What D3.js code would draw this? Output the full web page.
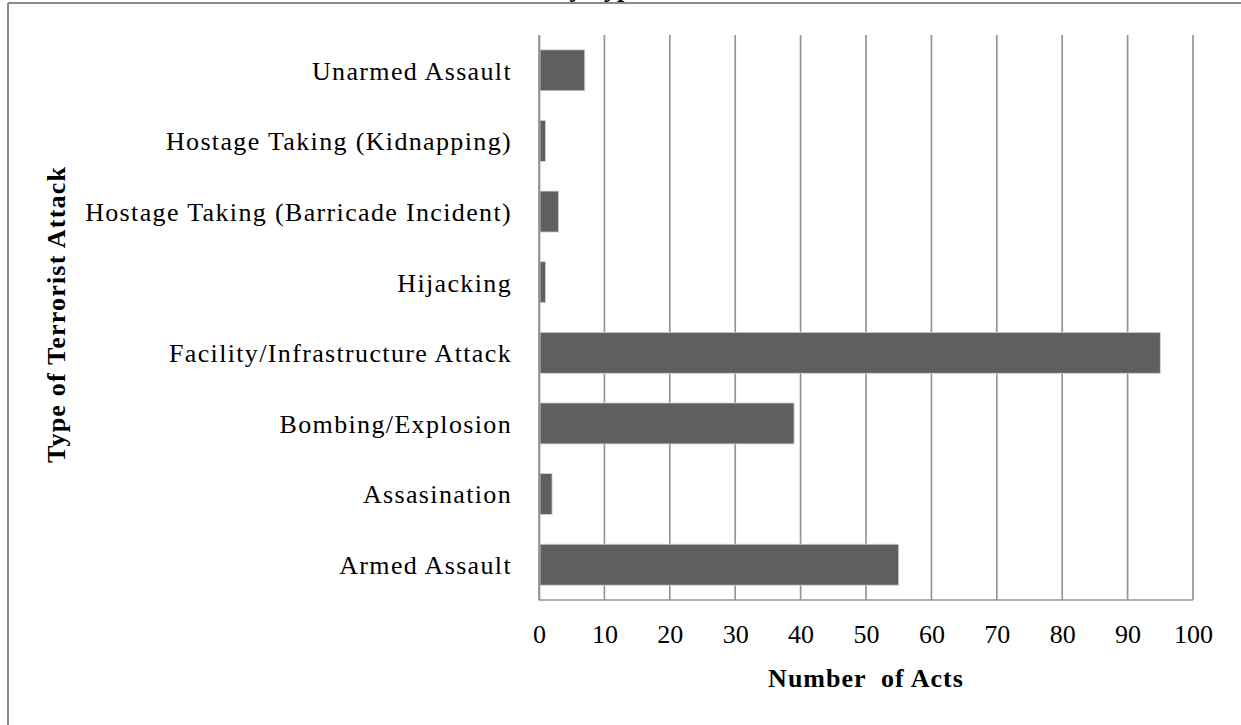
<!DOCTYPE html>
<html>
<head>
<meta charset="utf-8">
<script src="https://cdn.jsdelivr.net/npm/d3@7"></script>
<style>
  body { margin: 0; background: #fff; }
  text { font-family: "Liberation Serif", "Times New Roman", serif; fill: #000; }
</style>
</head>
<body>
<div id="vis"></div>
<script>
// chart values (bottom to top like the original)
var categories = ["Armed Assault", "Assasination", "Bombing/Explosion", "Facility/Infrastructure Attack",
                  "Hijacking", "Hostage Taking (Barricade Incident)", "Hostage Taking (Kidnapping)", "Unarmed Assault"];
var acts = [55, 2, 39, 95, 1, 3, 1, 7];
var xTicks = [0, 10, 20, 30, 40, 50, 60, 70, 80, 90, 100];

function init()
{
  var width = 1241, height = 725;
  var left = 539, right = 1193, top = 35, bottom = 600;

  var svg = d3.select("#vis")
    .append("svg")
    .attr("width", width)
    .attr("height", height);

  // outer frame of the chart (only top and left edges show)
  svg.append("line")
    .attr("x1", 8).attr("x2", width).attr("y1", 3).attr("y2", 3)
    .style("stroke", "#8a8a8a").style("stroke-width", 2);
  svg.append("line")
    .attr("x1", 8).attr("x2", 8).attr("y1", 3).attr("y2", height)
    .style("stroke", "#8a8a8a").style("stroke-width", 2);

  // title, cut off by the top of the picture as in the original
  svg.append("text")
    .attr("x", 643)
    .attr("y", -3)
    .style("text-anchor", "end")
    .style("font-weight", "bold")
    .style("font-size", "26px")
    .text("Terrorist Acts by Type");

  var xScale = d3.scaleLinear()
    .domain([0, 100])
    .range([left, right]);

  // top category first, so reverse the order for the band scale
  var yScale = d3.scaleBand()
    .domain(categories.slice().reverse())
    .range([top, bottom])
    .paddingInner(0.42)
    .paddingOuter(0.21);

  // vertical gridlines
  svg.selectAll(".grid")
    .data(xTicks)
    .enter()
    .append("line")
      .attr("class", "grid")
      .attr("x1", function(d) {return xScale(d);})
      .attr("x2", function(d) {return xScale(d);})
      .attr("y1", top)
      .attr("y2", bottom)
      .style("stroke", "#959595")
      .style("stroke-width", 1.7);

  // bottom axis line
  svg.append("line")
    .attr("x1", left).attr("x2", right)
    .attr("y1", bottom).attr("y2", bottom)
    .style("stroke", "#959595")
    .style("stroke-width", 1.7);

  // bars
  svg.selectAll(".bar")
    .data(acts)
    .enter()
    .append("rect")
      .attr("class", "bar")
      .attr("x", xScale(0) + 1)
      .attr("y", function(d, i) {return yScale(categories[i]);})
      .attr("width", function(d) {return xScale(d) - xScale(0) - 1;})
      .attr("height", yScale.bandwidth())
      .style("fill", "#5f5f5f")
      .style("stroke", "#d4d4d4")
      .style("stroke-width", 0.8);

  // x axis (labels only, lines drawn above)
  var xAxis = d3.axisBottom(xScale)
    .tickValues(xTicks)
    .tickSize(0)
    .tickPadding(0);

  var gx = svg.append("g")
    .attr("transform", "translate(0," + bottom + ")")
    .call(xAxis);
  gx.select(".domain").remove();
  gx.selectAll("text")
    .attr("y", 43)
    .attr("dy", null)
    .style("font-size", "26px")
    .style("font-family", "Liberation Serif, Times New Roman, serif")
    .style("fill", "#000");

  // y axis
  var yAxis = d3.axisLeft(yScale)
    .tickSize(0)
    .tickPadding(0);

  var gy = svg.append("g")
    .attr("transform", "translate(" + left + ",0)")
    .call(yAxis);
  gy.select(".domain")
    .style("stroke", "#959595")
    .style("stroke-width", 1.7);
  gy.selectAll("text")
    .attr("x", -27)
    .attr("dy", ".36em")
    .style("font-size", "26px")
    .style("letter-spacing", "1.35px")
    .style("font-family", "Liberation Serif, Times New Roman, serif")
    .style("fill", "#000");

  // axis titles
  svg.append("text")
    .attr("x", (left + right) / 2)
    .attr("y", 687)
    .style("text-anchor", "middle")
    .style("font-weight", "bold")
    .style("font-size", "26px")
    .style("letter-spacing", "1px")
    .style("white-space", "pre")
    .text("Number  of Acts");

  svg.append("text")
    .attr("transform", "translate(65," + ((top + bottom) / 2 - 3) + ") rotate(-90)")
    .style("text-anchor", "middle")
    .style("font-weight", "bold")
    .style("font-size", "26px")
    .style("letter-spacing", "1.2px")
    .text("Type of Terrorist Attack");
}

window.onload = init;
</script>
</body>
</html>
